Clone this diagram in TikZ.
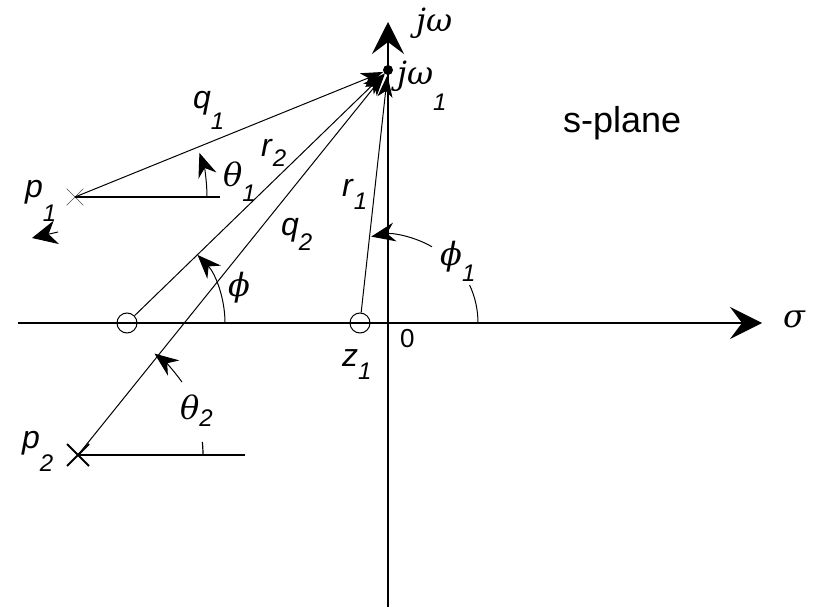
\documentclass[tikz,border=0pt]{standalone}
\usepackage{fontspec}
\setmainfont{Liberation Sans}
\newfontfamily\grkfont{DejaVu Serif}
\usetikzlibrary{arrows.meta,shapes.misc}

% letter with a lowered subscript
\newcommand{\sy}[3][0.75em]{\textit{#2}\raisebox{-#1}{\fontsize{24}{26}\selectfont\textit{#3}}}
\newcommand{\gsy}[3][0.6em]{{\grkfont\itshape #2}\raisebox{-#1}{\fontsize{24}{26}\selectfont\textit{#3}}}

\tikzset{
  axis/.style={line width=1.6pt, -{Stealth[length=32pt,width=32pt,inset=12pt]}},
  vec/.style={line width=1pt, -{Stealth[length=22pt,width=15pt,inset=6pt]}},
  ang/.style={line width=1pt, -{Stealth[length=24pt,width=19pt,inset=8pt]}},
  lbl/.style={font=\fontsize{32}{38}\selectfont, inner sep=0pt, anchor=base west},
  zero/.style={circle, draw, line width=1pt, minimum size=20pt, inner sep=0pt},
}

\begin{document}
\begin{tikzpicture}[x=1pt,y=-1pt]
\useasboundingbox (0,0) rectangle (814,609);

% axes
\coordinate (xl) at (18,323);
\coordinate (xr) at (762,323);
\coordinate (yb) at (388,607);
\coordinate (yt) at (388,22);
\draw[axis] (xl) -- (xr);
\draw[axis] (yb) -- (yt);

% poles, zeros and the test point
\node[zero] (zr) at (127,323) {};
\node[zero] (z1) at (360,323) {};
\node[circle, fill, inner sep=0pt, minimum size=10pt] (w1) at (388,70) {};
\node[cross out, draw=black!70, line width=0.7pt, minimum size=16pt, inner sep=0pt] (p1) at (75,197) {};
\node[cross out, draw, line width=2pt, minimum size=20pt, inner sep=0pt] (p2) at (78,455) {};

% vectors to j omega_1
\draw[vec] (p1.center) -- (w1);
\draw[vec] (zr) -- (w1);
\draw[vec] (p2.center) -- (w1);
\draw[vec] (z1) -- (w1);

% reference lines
\coordinate (h1) at (220,197);
\coordinate (h2) at (245,455);
\draw[line width=1.2pt] (p1.center) -- (h1);
\draw[line width=1.2pt] (p2.center) -- (h2);

% angles
\draw[ang] (207,197) arc[start angle=0, end angle=-19.5, radius=132];
\draw[ang] (225,323) arc[start angle=0, end angle=-44, radius=98];
\draw[line width=1pt] (478,323) arc[start angle=0, end angle=-25, radius=90];
\draw[ang] (388,323) ++(-60:88) arc[start angle=-60, end angle=-101, radius=88];
\draw[line width=1.2pt] (p2.center) ++(0:125) arc[start angle=0, end angle=-6, radius=125];
\draw[ang] (p2.center) ++(-35:127) arc[start angle=-35, end angle=-53, radius=127];

% stray tip beside p1
\coordinate (s0) at (58,232);
\coordinate (s1) at (32,238);
\draw[line width=1pt, -{Stealth[length=25pt,width=24pt,inset=8pt]}] (s0) -- (s1);

% labels
\node[lbl] (jw) at (416,32) {{\grkfont\itshape jω}};
\node[lbl] (jw1) at (397,85) {\gsy[0.8em]{jω}{1}};
\node[lbl, font=\fontsize{36}{40}\selectfont] (sp) at (563,133) {s-plane};
\node[lbl] (sig) at (783,328) {{\grkfont\itshape σ}};
\node[lbl, font=\fontsize{26}{30}\selectfont] (o) at (400,348) {0};
\node[lbl] (lz1) at (342,367) {\sy[0.4em]{z}{1}};
\node[lbl] (lp1) at (25,198) {\sy{p}{1}};
\node[lbl] (lp2) at (22,448) {\sy{p}{2}};
\node[lbl] (lq1) at (193,109) {\sy[0.65em]{q}{1}};
\node[lbl] (lr2) at (261,157) {\sy[0.3em]{r}{2}};
\node[lbl] (lq2) at (281,236) {\sy[0.45em]{q}{2}};
\node[lbl] (lr1) at (342,197) {\sy[0.4em]{r}{1}};
\node[lbl] (lt1) at (223,187) {\gsy[0.45em]{θ}{1}};
\node[lbl] (lt2) at (180,420) {\gsy[0.2em]{θ}{2}};
\node[lbl] (lf) at (228,297) {{\grkfont\itshape ϕ}};
\node[lbl] (lf1) at (440,266) {\gsy[0.5em]{ϕ}{1}};
\end{tikzpicture}
\end{document}
